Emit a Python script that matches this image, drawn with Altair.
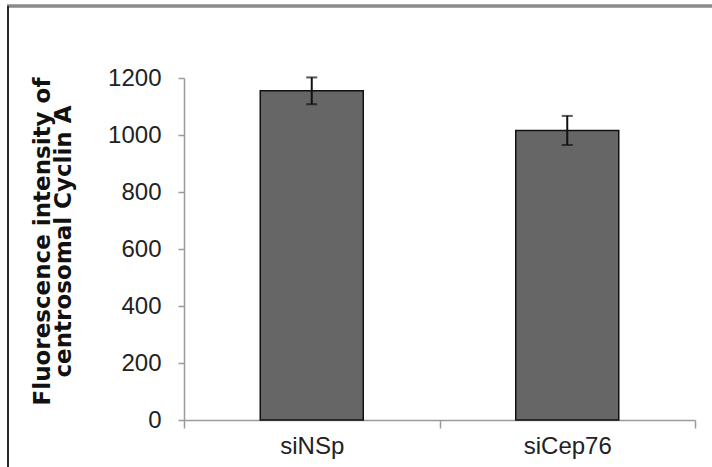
import altair as alt
import pandas as pd

# Mean centrosomal Cyclin A fluorescence per siRNA condition, with error
groups = ["siNSp", "siCep76"]
means = [1155, 1016]
errors = [47, 51]

df = pd.DataFrame({"group": groups, "mean": means, "err": errors})
df["lo"] = df["mean"] - df["err"]
df["hi"] = df["mean"] + df["err"]

PLOT_W, PLOT_H = 511, 342
LEFT, TOP = 184, 78

x_enc = alt.X(
    "group:N",
    sort=groups,
    scale=alt.Scale(paddingInner=0, paddingOuter=0),
    axis=alt.Axis(
        title=None,
        labelAngle=0,
        labelFont="Liberation Sans",
        labelFontSize=24,
        labelColor="#222222",
        labelPadding=6,
        tickBand="extent",
        tickSize=8,
        tickColor="#9a9a9a",
        tickWidth=1.5,
        domainColor="#9a9a9a",
        domainWidth=1.5,
    ),
)

y_scale = alt.Scale(domain=[0, 1200], nice=False)
y_axis = alt.Axis(
    values=[0, 200, 400, 600, 800, 1000, 1200],
    format="d",
    grid=False,
    title=["Fluorescence intensity of", "centrosomal Cyclin A"],
    titleFont="DejaVu Sans",
    titleFontWeight="bold",
    titleFontSize=23,
    titleLineHeight=21,
    titleColor="#111111",
    titleAngle=-90,
    titleX=-130,
    titleY=PLOT_H / 2 - 8,
    titleAlign="center",
    titleBaseline="bottom",
    labelFont="Liberation Sans",
    labelFontSize=24,
    labelColor="#222222",
    labelPadding=17,
    tickSize=6,
    tickColor="#9a9a9a",
    tickWidth=1.5,
    domainColor="#9a9a9a",
    domainWidth=1.5,
)

bars = alt.Chart(df).mark_bar(
    size=103, color="#666666", stroke="#111111", strokeWidth=1.5
).encode(
    x=x_enc,
    y=alt.Y("mean:Q", scale=y_scale, axis=y_axis),
)

whisker = alt.Chart(df).mark_rule(color="#111111", strokeWidth=2).encode(
    x=alt.X("group:N", sort=groups), y="lo:Q", y2="hi:Q"
)
cap_hi = alt.Chart(df).mark_tick(color="#111111", size=11, thickness=2, orient="horizontal").encode(
    x=alt.X("group:N", sort=groups), y="hi:Q"
)
cap_lo = alt.Chart(df).mark_tick(color="#111111", size=11, thickness=2, orient="horizontal").encode(
    x=alt.X("group:N", sort=groups), y="lo:Q"
)

# Outer frame lines around the figure
frame_top = alt.Chart(df).mark_rule(color="#8a8a8a", strokeWidth=3).encode(
    x=alt.value(7 - LEFT), x2=alt.value(712 - LEFT), y=alt.value(6 - TOP)
)
frame_left = alt.Chart(df).mark_rule(color="#2a2a2a", strokeWidth=2).encode(
    x=alt.value(8 - LEFT), y=alt.value(6 - TOP), y2=alt.value(467 - TOP)
)

chart = alt.layer(bars, whisker, cap_hi, cap_lo, frame_top, frame_left).properties(
    width=PLOT_W,
    height=PLOT_H,
    autosize=alt.AutoSizeParams(type="none"),
    padding={"left": LEFT, "top": TOP, "right": 712 - LEFT - PLOT_W, "bottom": 467 - TOP - PLOT_H},
    background="white",
).configure_view(stroke=None)

chart.save("out.html", embed_options={"renderer": "svg", "actions": False})
